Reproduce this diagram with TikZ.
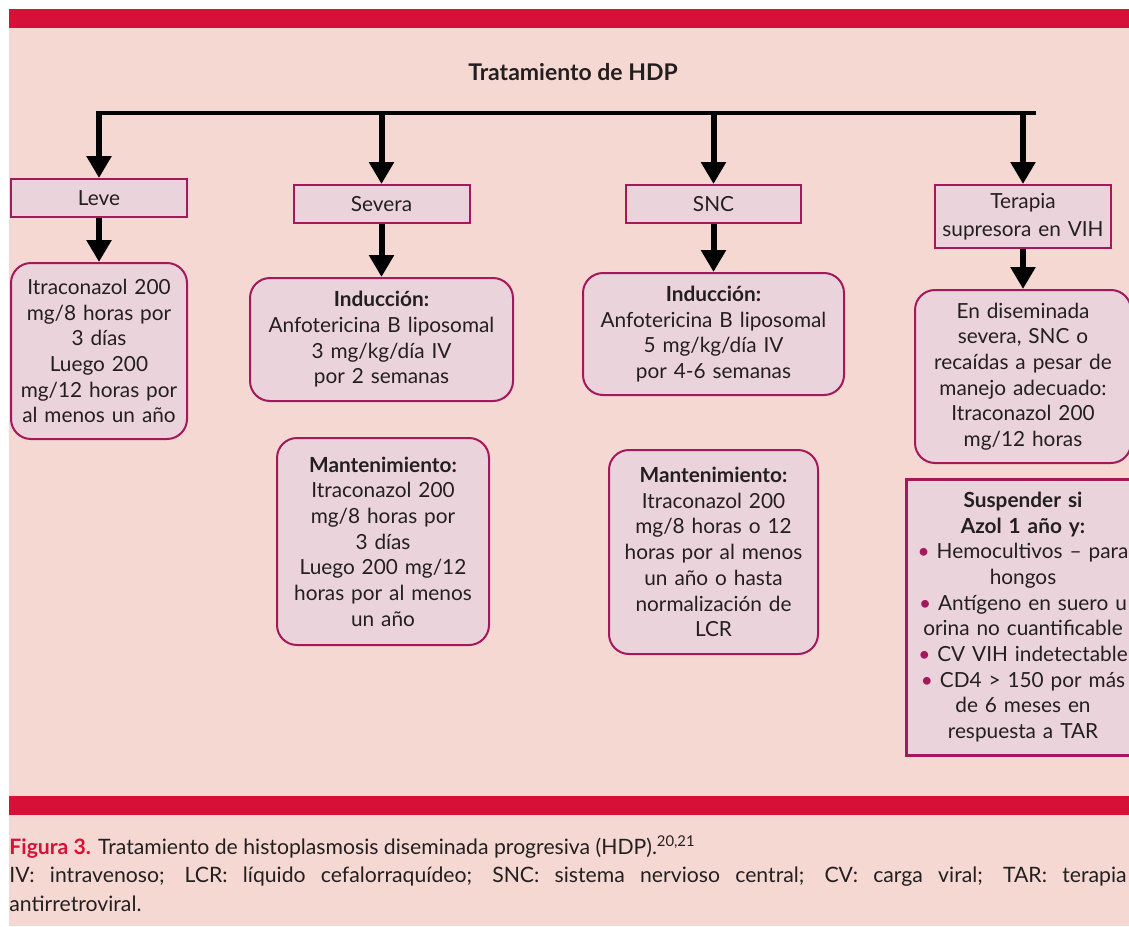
\documentclass[tikz,border=0pt]{standalone}
\usepackage{fontspec}
\setmainfont{Lato}
\usetikzlibrary{arrows.meta}
\definecolor{barred}{RGB}{215,16,56}
\definecolor{bgpink}{RGB}{246,216,211}
\definecolor{boxfill}{RGB}{235,211,220}
\definecolor{boxline}{RGB}{163,25,91}
\definecolor{textdark}{RGB}{35,31,32}
\newcommand{\bul}{{\color{boxline}•}}
\tikzset{
    cat/.style={rectangle,draw=boxline,fill=boxfill,line width=1pt,inner sep=0pt,
        align=center,text=textdark,font=\fontsize{10.4}{12.85}\selectfont},
    tx/.style={cat,rounded corners=10pt},
    flow/.style={-{Triangle[width=12pt,length=11pt]},line width=3pt},
    bus/.style={line width=2pt},
    capt/.style={anchor=base west,inner sep=0pt,text=textdark,font=\fontsize{10.6}{14}\selectfont},
}

\begin{document}
\begin{tikzpicture}[x=0.5pt,y=-0.5pt]
\useasboundingbox (0,0) rectangle (1129,926);
\clip (0,0) rectangle (1129,926);
\fill[white] (0,0) rectangle (1129,926);
\fill[bgpink] (9,28) rectangle (1129,926);
\fill[barred] (9,9) rectangle (1129,28);
\fill[barred] (9,796) rectangle (1129,815);

\node[text=textdark,font=\bfseries\fontsize{11.5}{14}\selectfont] (title) at (573,72) {Tratamiento de HDP};

% categories
\node[cat,minimum width=88pt,minimum height=19pt,text width=86pt] (leve) at (99,198) {Leve};
\node[cat,minimum width=88pt,minimum height=19pt,text width=86pt] (severa) at (381.5,204) {Severa};
\node[cat,minimum width=87.5pt,minimum height=19pt,text width=86pt] (snc) at (713.5,204) {SNC};
\node[cat,minimum width=88pt,minimum height=31.5pt,text width=86pt,font=\fontsize{10.4}{14}\selectfont] (vih) at (1023,216.5) {Terapia\\supresora en VIH};

% treatments
\node[tx,minimum width=88pt,minimum height=88pt,text width=86pt] (leveTx) at (99,351)
    {Itraconazol 200\\mg/8 horas por\\3 días\\Luego 200\\mg/12 horas por\\al menos un año};
\node[tx,minimum width=131.5pt,minimum height=61.5pt,text width=129pt] (sevInd) at (381.5,339.5)
    {\textbf{Inducción:}\\Anfotericina B liposomal\\3 mg/kg/día IV\\por 2 semanas};
\node[tx,minimum width=130.5pt,minimum height=61pt,text width=128pt] (sncInd) at (713.5,334)
    {\textbf{Inducción:}\\Anfotericina B liposomal\\5 mg/kg/día IV\\por 4-6 semanas};
\node[tx,minimum width=106pt,minimum height=103.5pt,text width=104pt] (sevMant) at (383,541.5)
    {\textbf{Mantenimiento:}\\Itraconazol 200\\mg/8 horas por\\3 días\\Luego 200 mg/12\\horas por al menos\\un año};
\node[tx,minimum width=104.5pt,minimum height=102pt,text width=102pt] (sncMant) at (713.5,552)
    {\textbf{Mantenimiento:}\\Itraconazol 200\\mg/8 horas o 12\\horas por al menos\\un año o hasta\\normalización de\\LCR};
\node[tx,minimum width=108pt,minimum height=86.5pt,text width=106pt] (vihTx) at (1023,376.5)
    {En diseminada\\severa, SNC o\\recaídas a pesar de\\manejo adecuado:\\Itraconazol 200\\mg/12 horas};
\node[cat,line width=1.5pt,minimum width=117pt,minimum height=138pt,text width=115pt] (susp) at (1023,617)
    {\textbf{Suspender si}\\\textbf{Azol 1 año y:}\\\bul{} Hemocultivos -- para\\hongos\\\bul{} Antígeno en suero u\\orina no cuantificable\\\bul{} CV VIH indetectable\\\bul{} CD4 > 150 por más\\de 6 meses en\\respuesta a TAR};

% connectors
\coordinate (bw) at (96,113);
\coordinate (be) at (1036,113);
\coordinate (b1) at (99,113);
\coordinate (b2) at (381.5,113);
\coordinate (b3) at (713.5,113);
\coordinate (b4) at (1023,113);
\draw[bus] (bw) -- (be);
\draw[flow] (b1) -- (leve);
\draw[flow] (b2) -- (severa);
\draw[flow] (b3) -- (snc);
\draw[flow] (b4) -- (vih);
\draw[flow] (leve) -- (leveTx);
\draw[flow] (severa) -- (sevInd);
\draw[flow] (snc) -- (sncInd);
\draw[flow] (vih) -- (vihTx);

% caption
\node[capt] (fig) at (9,854) {{\bfseries\color{barred}Figura 3.} Tratamiento de histoplasmosis diseminada progresiva (HDP).\textsuperscript{20,21}};
\node[capt] (abbr) at (9,882) {\makebox[558.5pt][s]{IV: intravenoso; LCR: líquido cefalorraquídeo; SNC: sistema nervioso central; CV: carga viral; TAR: terapia}};
\node[capt] (abbr2) at (9,911) {antirretroviral.};
\end{tikzpicture}
\end{document}
